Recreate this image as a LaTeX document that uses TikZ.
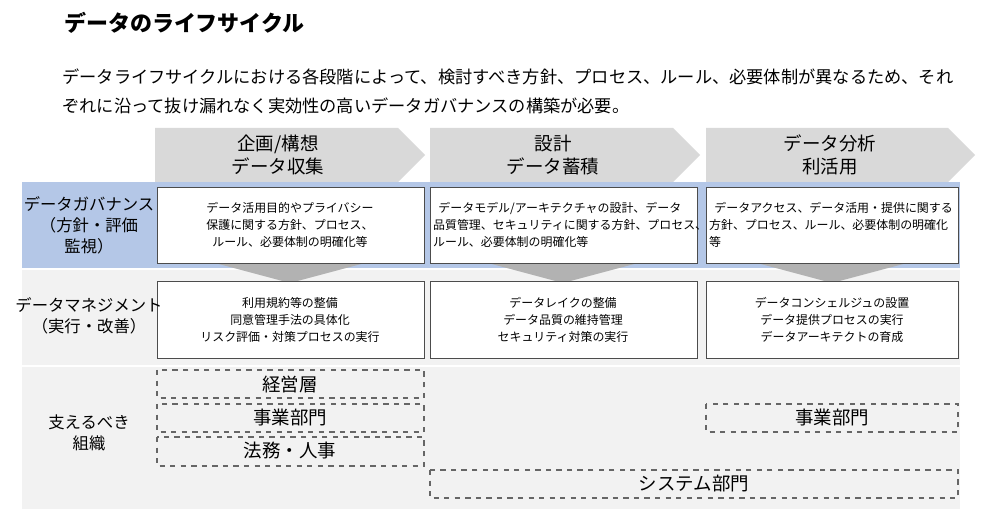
\documentclass[tikz,border=0pt]{standalone}
\usepackage{fontspec}
\setmainfont{Noto Sans CJK JP}
\definecolor{govblue}{HTML}{B4C7E7}
\begin{document}
\begin{tikzpicture}[x=0.02cm,y=-0.02cm,
 wbox/.style={draw=black!70,fill=white,line width=0.5pt},
 dbox/.style={draw=black!60,dashed,line width=0.6pt},
 chev/.style={fill=black!15,draw=none},
 lab/.style={font=\fontsize{10.5}{13}\selectfont,align=center},
 llab/.style={font=\fontsize{9.3}{12}\selectfont,align=center},
 btxt/.style={font=\fontsize{6.8}{9.6}\selectfont,align=center},
 org/.style={font=\fontsize{10.5}{12}\selectfont}]
\useasboundingbox (0,0) rectangle (1000,509);
\node[anchor=west,font=\bfseries\fontsize{12.5}{14}\selectfont] (title) at (58,23) {データのライフサイクル};
\node[anchor=north west,align=left,font=\fontsize{9.8}{17}\selectfont,inner sep=0] (intro) at (62,68) {データライフサイクルにおける各段階によって、検討すべき方針、プロセス、ルール、必要体制が異なるため、それ\\ぞれに沿って抜け漏れなく実効性の高いデータガバナンスの構築が必要。};
% chevrons
\foreach \a/\b in {155/425,430/700,706/975}{
 \fill[chev] (\a,128) -- (\b-27,128) -- (\b,155) -- (\b-27,182) -- (\a,182) -- cycle;}
\node[lab] (h1) at (278,155) {企画/構想\\データ収集};
\node[lab] (h2) at (553,155) {設計\\データ蓄積};
\node[lab] (h3) at (830,155) {データ分析\\利活用};
% bands
\fill[govblue] (22,182) rectangle (960,268);
\fill[black!5] (22,270) rectangle (960,365);
\fill[black!5] (22,367) rectangle (960,509);
% triangles
\foreach \c in {290,563,832}{\fill[black!30] (\c-75,263) -- (\c+75,263) -- (\c,283) -- cycle;}
% governance boxes
\draw[wbox] (157,187) rectangle (424,263);
\draw[wbox] (430,187) rectangle (697,263);
\draw[wbox] (706,187) rectangle (958,263);
\node[btxt] (g1) at (290,225) {データ活用目的やプライバシー\\保護に関する方針、プロセス、\\ルール、必要体制の明確化等};
\node[btxt,align=left,anchor=west,inner sep=1pt] (g2) at (431,225) {\ \ データモデル/アーキテクチャの設計、データ\\品質管理、セキュリティに関する方針、プロセス、\\ルール、必要体制の明確化等};
\node[btxt,align=left,anchor=west,inner sep=1pt] (g3) at (707,225) {\ \ データアクセス、データ活用・提供に関する\\方針、プロセス、ルール、必要体制の明確化\\等};
% management boxes
\draw[wbox] (157,281) rectangle (424,358);
\draw[wbox] (430,281) rectangle (697,358);
\draw[wbox] (706,281) rectangle (958,358);
\node[btxt] (m1) at (290,320) {利用規約等の整備\\同意管理手法の具体化\\リスク評価・対策プロセスの実行};
\node[btxt] (m2) at (563,320) {データレイクの整備\\データ品質の維持管理\\セキュリティ対策の実行};
\node[btxt] (m3) at (832,320) {データコンシェルジュの設置\\データ提供プロセスの実行\\データアーキテクトの育成};
% left labels
\node[llab] (l1) at (89,225) {データガバナンス\\（方針・評価\\監視）};
\node[llab] (l2) at (89,316) {データマネジメント\\（実行・改善）};
\node[llab] (l3) at (89,433) {支えるべき\\組織};
% org
\draw[dbox] (157,370) rectangle (424,398); \node[org] (o1) at (290,384) {経営層};
\draw[dbox] (157,404) rectangle (424,432); \node[org] (o2) at (290,418) {事業部門};
\draw[dbox] (157,437) rectangle (424,466); \node[org] (o3) at (290,451) {法務・人事};
\draw[dbox] (706,404) rectangle (958,432); \node[org] (o4) at (832,418) {事業部門};
\draw[dbox] (430,470) rectangle (958,498); \node[org] (o5) at (694,484) {システム部門};
\end{tikzpicture}
\end{document}
